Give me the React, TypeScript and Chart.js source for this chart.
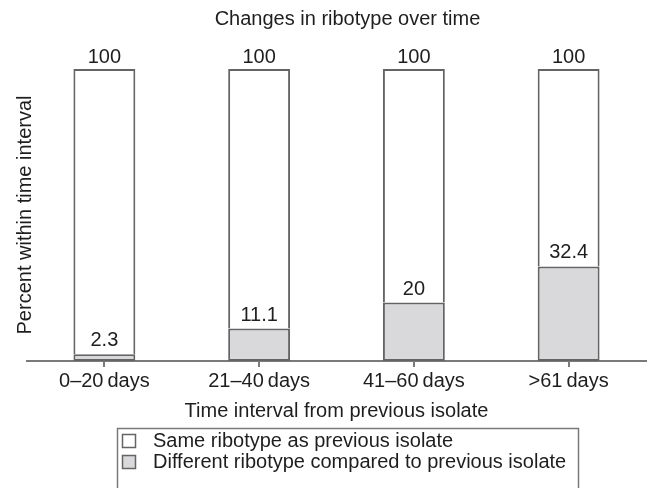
import React, { useEffect, useRef } from "react";
import { Chart, registerables } from "chart.js";

Chart.register(...registerables);

const FONT = "'Liberation Sans', Arial, Helvetica, sans-serif";

const categories = ["0\u201320\u2009days", "21\u201340\u2009days", "41\u201360\u2009days", ">61\u2009days"];
const differentRibotype = [2.3, 11.1, 20, 32.4];
const sameRibotype = [97.7, 88.9, 80, 67.6];
const differentLabels = ["2.3", "11.1", "20", "32.4"];
const totalLabels = ["100", "100", "100", "100"];
const seriesSame = "Same ribotype as previous isolate";
const seriesDifferent = "Different ribotype compared to previous isolate";
const chartTitle = "Changes in ribotype over time";
const xTitle = "Time interval from previous isolate";
const yTitle = "Percent within time interval";

const TEXT = "#1e1e1e";
const EDGE = "#646464";
const AXIS = "#7a7a7a";
const GREY = "#d9d9db";

const labelPlugin = {
  id: "stackLabels",
  afterDatasetsDraw(chart: any) {
    const ctx = chart.ctx;
    ctx.save();
    ctx.font = `20px ${FONT}`;
    ctx.fillStyle = TEXT;
    ctx.textAlign = "center";
    ctx.textBaseline = "alphabetic";
    chart.getDatasetMeta(0).data.forEach((bar: any, i: number) => {
      ctx.fillText(differentLabels[i], bar.x, bar.y - 8);
    });
    chart.getDatasetMeta(1).data.forEach((bar: any, i: number) => {
      ctx.fillText(totalLabels[i], bar.x, bar.y - 6);
    });
    ctx.restore();
  },
};

const titleLegendPlugin = {
  id: "titleLegend",
  afterDraw(chart: any) {
    const ctx = chart.ctx;
    ctx.save();
    ctx.font = `20px ${FONT}`;
    ctx.fillStyle = TEXT;
    ctx.textAlign = "center";
    ctx.textBaseline = "middle";
    ctx.fillText(chartTitle, 347.5, 19.5);

    // legend box
    ctx.strokeStyle = AXIS;
    ctx.lineWidth = 1.5;
    ctx.strokeRect(117.5, 428.5, 461, 80);

    const items = [...chart.data.datasets].reverse();
    items.forEach((ds: any, i: number) => {
      const cy = 441 + i * 21;
      ctx.fillStyle = ds.backgroundColor;
      ctx.fillRect(122, cy - 7, 14, 14);
      ctx.strokeStyle = EDGE;
      ctx.lineWidth = 1.5;
      ctx.strokeRect(122.5, cy - 6.5, 13, 13);
      ctx.fillStyle = TEXT;
      ctx.textAlign = "left";
      ctx.textBaseline = "middle";
      ctx.fillText(ds.label, 153, cy);
    });
    ctx.restore();
  },
};

export default function App() {
  const ref = useRef<HTMLCanvasElement | null>(null);

  useEffect(() => {
    document.body.style.margin = "0";
    const canvas = ref.current;
    if (!canvas) return;
    const chart = new Chart(canvas, {
      type: "bar",
      data: {
        labels: categories,
        datasets: [
          {
            label: seriesDifferent,
            data: differentRibotype,
            backgroundColor: GREY,
            borderColor: EDGE,
            borderWidth: 2,
            borderSkipped: false,
            barPercentage: 0.4,
            categoryPercentage: 1,
          },
          {
            label: seriesSame,
            data: sameRibotype,
            backgroundColor: "#ffffff",
            borderColor: EDGE,
            borderWidth: 2,
            borderSkipped: "start",
            barPercentage: 0.4,
            categoryPercentage: 1,
          },
        ],
      },
      options: {
        responsive: false,
        animation: false,
        layout: { padding: { top: 69, right: 10, bottom: 65, left: 0 } },
        plugins: {
          legend: { display: false },
          title: { display: false },
          tooltip: { enabled: false },
        },
        scales: {
          x: {
            stacked: true,
            offset: true,
            grid: {
              display: true,
              drawOnChartArea: false,
              drawTicks: true,
              tickLength: 6,
              offset: false,
              color: AXIS,
              lineWidth: 2,
            },
            border: { display: true, color: AXIS, width: 2 },
            ticks: {
              color: TEXT,
              font: { family: FONT, size: 20 },
              padding: 2,
              maxRotation: 0,
              autoSkip: false,
            },
            title: {
              display: true,
              text: xTitle,
              color: TEXT,
              font: { family: FONT, size: 20 },
              padding: { top: 4, bottom: 0 },
            },
          },
          y: {
            stacked: true,
            min: 0,
            max: 100,
            grid: { display: false },
            border: { display: false },
            ticks: { display: false },
            title: {
              display: true,
              text: yTitle,
              color: TEXT,
              font: { family: FONT, size: 20 },
              padding: { top: 13, bottom: 0 },
            },
            afterFit: (scale: any) => {
              scale.width = 27;
            },
          },
        },
      },
      plugins: [labelPlugin, titleLegendPlugin],
    } as any);
    return () => chart.destroy();
  }, []);

  return (
    <div style={{ width: 656, height: 488 }}>
      <canvas ref={ref} width={656} height={488} style={{ display: "block" }} />
    </div>
  );
}
